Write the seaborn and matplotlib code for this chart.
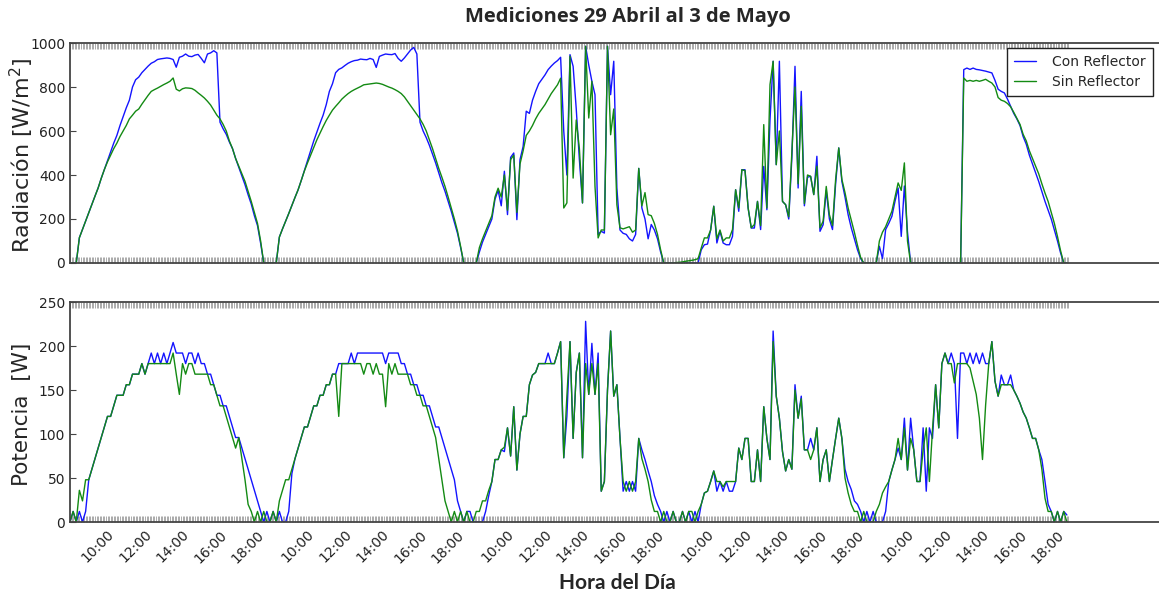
import numpy as np
import pandas as pd
import seaborn as sns
import matplotlib.pyplot as plt
from matplotlib.ticker import FixedLocator, FixedFormatter

# Mediciones cada 10 minutos, de 8:30 a 19:00, cinco días seguidos (29 Abril - 3 Mayo)
muestras_dia = 64
n_dias = 5
hora_inicio = 8.5
paso_min = 10
horas_tick = [10, 12, 14, 16, 18]

# Radiación [W/m2] con reflector (una fila por día)
rad_con = (
    [0, 0, 0, 115, 153, 190, 228, 266, 304, 341, 385, 425, 465, 505, 545, 580, 625, 665, 705, 740,
     800, 833, 845, 865, 880, 895, 908, 915, 925, 928, 930, 932, 930, 925, 890, 935, 940, 950, 940, 938,
     945, 948, 930, 910, 950, 955, 965, 955, 640, 610, 585, 550, 520, 475, 435, 395, 356, 310, 268, 215,
     170, 90, 0, 0]
    + [0, 0, 0, 118, 155, 190, 225, 262, 298, 333, 375, 420, 465, 510, 555, 595, 635, 672, 720, 780,
       815, 865, 880, 887, 898, 908, 915, 920, 922, 927, 925, 924, 930, 925, 889, 939, 945, 950, 948, 947,
       952, 930, 917, 932, 950, 968, 980, 950, 640, 600, 570, 535, 495, 455, 410, 365, 326, 280, 235, 185,
       135, 70, 0, 0]
    + [0, 0, 0, 50, 95, 130, 165, 200, 290, 330, 260, 417, 220, 480, 500, 197, 470, 530, 690, 680,
       740, 780, 815, 835, 855, 879, 895, 909, 920, 935, 600, 400, 947, 894, 700, 470, 273, 985, 900, 826,
       765, 130, 144, 136, 985, 765, 917, 340, 150, 135, 130, 110, 100, 130, 430, 250, 200, 110, 175, 150,
       110, 50, 0, 0]
    + [0, 0, 0, 0, 0, 0, 0, 0, 0, 0, 60, 83, 86, 150, 258, 91, 144, 91, 83, 83,
       121, 333, 235, 424, 424, 250, 159, 159, 280, 152, 439, 242, 650, 917, 447, 917, 280, 265, 200, 480,
       894, 341, 780, 260, 390, 394, 311, 485, 144, 174, 330, 200, 152, 360, 523, 371, 300, 220, 160, 110,
       60, 20, 0, 0]
    + [0, 0, 0, 76, 20, 152, 180, 212, 280, 341, 121, 350, 140, 0, 0, 0, 0, 0, 0, 0,
       0, 0, 0, 0, 0, 0, 0, 0, 0, 0, 879, 886, 880, 886, 880, 878, 875, 872, 868, 864,
       830, 790, 780, 773, 745, 712, 680, 655, 625, 575, 540, 490, 450, 410, 370, 325, 280, 240, 200, 150,
       100, 45, 0, 0]
)

# Radiación [W/m2] sin reflector
rad_sin = (
    [0, 0, 0, 115, 153, 190, 228, 266, 304, 341, 385, 425, 460, 490, 520, 545, 575, 600, 625, 655,
     672, 690, 700, 722, 742, 762, 780, 788, 795, 803, 811, 818, 826, 841, 790, 782, 792, 796, 795, 793,
     785, 773, 762, 750, 735, 718, 695, 672, 655, 630, 600, 555, 520, 475, 440, 405, 371, 325, 280, 230,
     180, 100, 0, 0]
    + [0, 0, 0, 118, 155, 190, 225, 262, 298, 333, 375, 418, 455, 490, 525, 560, 590, 620, 648, 672,
       695, 712, 728, 745, 758, 770, 780, 788, 795, 802, 810, 812, 814, 816, 818, 816, 812, 806, 800, 795,
       788, 780, 770, 755, 735, 715, 695, 675, 655, 630, 600, 560, 520, 475, 430, 390, 348, 300, 250, 200,
       145, 75, 0, 0]
    + [0, 0, 0, 70, 110, 145, 180, 215, 300, 340, 300, 400, 240, 470, 490, 230, 450, 510, 580, 600,
       625, 655, 680, 700, 720, 745, 770, 790, 810, 840, 250, 273, 940, 386, 650, 520, 273, 985, 659, 826,
       348, 114, 150, 150, 985, 583, 700, 265, 160, 155, 160, 165, 140, 150, 430, 260, 320, 220, 215, 180,
       130, 60, 0, 0]
    + [0, 0, 2, 3, 5, 8, 10, 12, 15, 20, 68, 114, 114, 150, 258, 110, 150, 100, 114, 114,
       152, 333, 250, 424, 420, 250, 160, 175, 280, 170, 629, 250, 811, 917, 447, 600, 280, 265, 210, 500,
       800, 360, 712, 270, 400, 394, 311, 440, 160, 190, 348, 220, 170, 380, 523, 380, 320, 250, 195, 140,
       80, 25, 0, 0]
    + [0, 0, 0, 100, 140, 165, 200, 235, 300, 364, 330, 455, 100, 0, 0, 0, 0, 0, 0, 0,
       0, 0, 0, 0, 0, 0, 0, 0, 0, 0, 841, 826, 830, 826, 830, 826, 830, 835, 826, 818,
       800, 752, 740, 735, 725, 710, 685, 658, 630, 585, 555, 510, 475, 440, 405, 360, 318, 280, 230, 180,
       120, 55, 0, 0]
)

# Potencia [W] con reflector
pot_con = (
    [0, 12, 0, 12, 0, 12, 48, 60, 72, 84, 96, 108, 120, 120, 132, 144, 144, 144, 156, 156,
     168, 168, 168, 180, 168, 180, 192, 180, 192, 180, 192, 180, 192, 204, 192, 192, 192, 180, 192, 192,
     180, 192, 180, 180, 168, 168, 156, 144, 144, 132, 132, 120, 108, 96, 96, 84, 72, 60, 48, 36,
     24, 12, 0, 12]
    + [0, 12, 0, 12, 0, 0, 12, 55, 72, 84, 96, 108, 108, 120, 132, 132, 144, 144, 156, 156,
       168, 168, 180, 180, 180, 180, 192, 180, 192, 192, 192, 192, 192, 192, 192, 192, 192, 180, 192, 192,
       192, 192, 180, 180, 168, 168, 156, 156, 144, 144, 132, 132, 120, 108, 108, 96, 84, 72, 60, 48,
       24, 12, 0, 12]
    + [12, 0, 0, 0, 0, 12, 30, 46, 71, 71, 82, 80, 107, 75, 131, 59, 100, 120, 120, 156,
       167, 170, 180, 180, 180, 192, 180, 180, 192, 205, 73, 120, 205, 95, 170, 192, 73, 228, 145, 203,
       145, 192, 35, 46, 150, 217, 143, 156, 95, 35, 46, 35, 46, 35, 95, 82, 71, 58, 46, 30,
       20, 12, 0, 12]
    + [0, 12, 0, 0, 12, 0, 12, 0, 12, 0, 20, 33, 35, 46, 58, 35, 46, 35, 46, 35,
       35, 46, 84, 71, 95, 95, 46, 46, 82, 46, 131, 95, 71, 217, 143, 118, 80, 58, 71, 60,
       156, 118, 143, 82, 82, 95, 82, 107, 46, 71, 82, 46, 71, 95, 118, 95, 60, 46, 37, 24,
       20, 12, 0, 12]
    + [0, 12, 0, 0, 0, 12, 46, 59, 71, 84, 71, 118, 59, 118, 82, 46, 46, 107, 35, 107,
       95, 156, 107, 180, 192, 180, 192, 180, 95, 192, 192, 180, 192, 180, 192, 180, 192, 180, 180, 205,
       160, 143, 167, 156, 156, 167, 150, 143, 135, 125, 118, 107, 95, 95, 82, 71, 46, 20, 12, 0,
       12, 0, 12, 8]
)

# Potencia [W] sin reflector
pot_sin = (
    [0, 12, 0, 36, 24, 48, 48, 60, 72, 84, 96, 108, 120, 120, 132, 144, 144, 144, 156, 156,
     168, 168, 168, 180, 168, 180, 180, 180, 180, 180, 180, 180, 180, 192, 168, 145, 180, 168, 180, 180,
     168, 168, 168, 168, 168, 156, 156, 144, 132, 132, 120, 108, 96, 84, 96, 72, 48, 20, 12, 0,
     12, 0, 12, 0]
    + [0, 12, 0, 24, 36, 48, 48, 60, 72, 84, 96, 108, 108, 120, 132, 132, 144, 144, 156, 156,
       168, 168, 120, 180, 180, 180, 180, 180, 180, 180, 168, 180, 180, 168, 180, 168, 168, 131, 180, 168,
       180, 168, 168, 168, 168, 156, 156, 144, 144, 132, 132, 120, 108, 96, 72, 48, 24, 12, 0, 12,
       0, 12, 0, 12]
    + [0, 0, 12, 12, 24, 24, 36, 46, 71, 71, 82, 85, 107, 75, 131, 59, 100, 120, 120, 156,
       167, 170, 180, 180, 180, 180, 180, 180, 192, 205, 73, 143, 205, 95, 170, 192, 73, 180, 145, 180,
       145, 180, 35, 46, 150, 217, 143, 156, 95, 46, 35, 46, 35, 46, 95, 72, 60, 46, 25, 12,
       12, 0, 12, 0]
    + [0, 12, 0, 0, 12, 0, 12, 12, 0, 12, 20, 33, 35, 46, 58, 46, 46, 40, 46, 46,
       46, 46, 84, 71, 95, 95, 46, 46, 82, 46, 131, 95, 71, 205, 143, 118, 80, 58, 71, 60,
       150, 118, 140, 82, 82, 71, 82, 107, 46, 71, 82, 46, 71, 95, 118, 95, 50, 33, 20, 12,
       12, 0, 12, 0]
    + [0, 0, 12, 20, 33, 40, 46, 59, 71, 95, 71, 107, 59, 95, 82, 46, 46, 82, 107, 46,
       105, 156, 107, 180, 192, 180, 180, 158, 180, 180, 180, 180, 175, 160, 145, 118, 71, 133, 180, 205,
       160, 143, 156, 156, 156, 156, 150, 143, 135, 125, 118, 107, 95, 95, 82, 60, 27, 12, 12, 0,
       12, 0, 12, 0]
)

series = ['Con Reflector', 'Sin Reflector']
colores = {'Con Reflector': '#1414ff', 'Sin Reflector': '#138a13'}

for nombre, datos in [('rad_con', rad_con), ('rad_sin', rad_sin), ('pot_con', pot_con), ('pot_sin', pot_sin)]:
    assert len(datos) == muestras_dia * n_dias, (nombre, len(datos))

idx = np.arange(muestras_dia * n_dias)
rad = pd.DataFrame({'idx': idx, 'Con Reflector': rad_con, 'Sin Reflector': rad_sin})
rad = rad.melt(id_vars='idx', var_name='serie', value_name='valor')
pot = pd.DataFrame({'idx': idx, 'Con Reflector': pot_con, 'Sin Reflector': pot_sin})
pot = pot.melt(id_vars='idx', var_name='serie', value_name='valor')

# posiciones de las etiquetas de hora (10:00 ... 18:00 de cada día)
pos_tick, etiquetas = [], []
for d in range(n_dias):
    for h in horas_tick:
        pos_tick.append(d * muestras_dia + (h - hora_inicio) * 60 / paso_min)
        etiquetas.append(f'{h}:00')

sns.set_style('ticks')
plt.rcParams['font.family'] = ['DejaVu Sans']
plt.rcParams['xtick.direction'] = 'in'
plt.rcParams['ytick.direction'] = 'in'

W, H = 1159, 600
fig = plt.figure(figsize=(W / 100, H / 100), dpi=100)
x0 = 70 / W
ancho = 1125 / W
ax1 = fig.add_axes([x0, 1 - 263 / H, ancho, 220 / H])
ax2 = fig.add_axes([x0, 1 - 522 / H, ancho, 220 / H], sharex=ax1)

sns.lineplot(data=rad, x='idx', y='valor', hue='serie', hue_order=series, palette=colores,
             estimator=None, linewidth=1.0, ax=ax1)
sns.lineplot(data=pot, x='idx', y='valor', hue='serie', hue_order=series, palette=colores,
             estimator=None, linewidth=1.0, ax=ax2, legend=False)

ax1.set_xlim(0, 360)
ax1.set_ylim(0, 1000)
ax2.set_ylim(0, 250)
ax1.set_yticks(range(0, 1001, 200))
ax2.set_yticks(range(0, 251, 50))

minor = np.arange(0, muestras_dia * n_dias, 0.5)
for ax in (ax1, ax2):
    ax.set_xlabel('')
    ax.set_ylabel('')
    ax.xaxis.set_major_locator(FixedLocator(pos_tick))
    ax.xaxis.set_minor_locator(FixedLocator(minor))
    ax.tick_params(axis='x', which='both', direction='in', top=True, bottom=True,
                   length=4, width=0.5, color='#888888')
    ax.tick_params(axis='y', direction='in', left=True, right=True, length=4,
                   width=0.8, color='#444444', labelsize=10, labelcolor='#222222')
    for s in ax.spines.values():
        s.set_color('#444444')
        s.set_linewidth(1.3)

ax1.tick_params(axis='x', labelbottom=False)
ax2.xaxis.set_major_formatter(FixedFormatter(etiquetas))
ax2.tick_params(axis='x', labelsize=10, labelcolor='#222222', pad=4)
for t in ax2.get_xticklabels():
    t.set_rotation(45)

handles, labels = ax1.get_legend_handles_labels()
ax1.legend(handles, labels, loc='upper right', bbox_to_anchor=(1153 / W, 1 - 48 / H),
           bbox_transform=fig.transFigure, borderaxespad=0, frameon=True, fancybox=False,
           framealpha=1, edgecolor='#222222', fontsize=10, handlelength=1.6, borderpad=0.5,
           labelspacing=0.45, handletextpad=1.2)

fig.text(628 / W, 1 - 17 / H, 'Mediciones 29 Abril al 3 de Mayo', ha='center', va='center',
         fontsize=14.5, fontweight='bold', family=['Open Sans', 'DejaVu Sans'])
fig.text(617 / W, 1 - 583 / H, 'Hora del Día', ha='center', va='center',
         fontsize=15, fontweight='bold', family=['Lato', 'DejaVu Sans'])
fig.text(22 / W, 1 - 155 / H, 'Radiación [W/m$^2$]', rotation=90, ha='center', va='center',
         fontsize=16)
fig.text(22 / W, 1 - 414 / H, 'Potencia  [W]', rotation=90, ha='center', va='center',
         fontsize=15.5)

fig.savefig('out.png', dpi=100)
